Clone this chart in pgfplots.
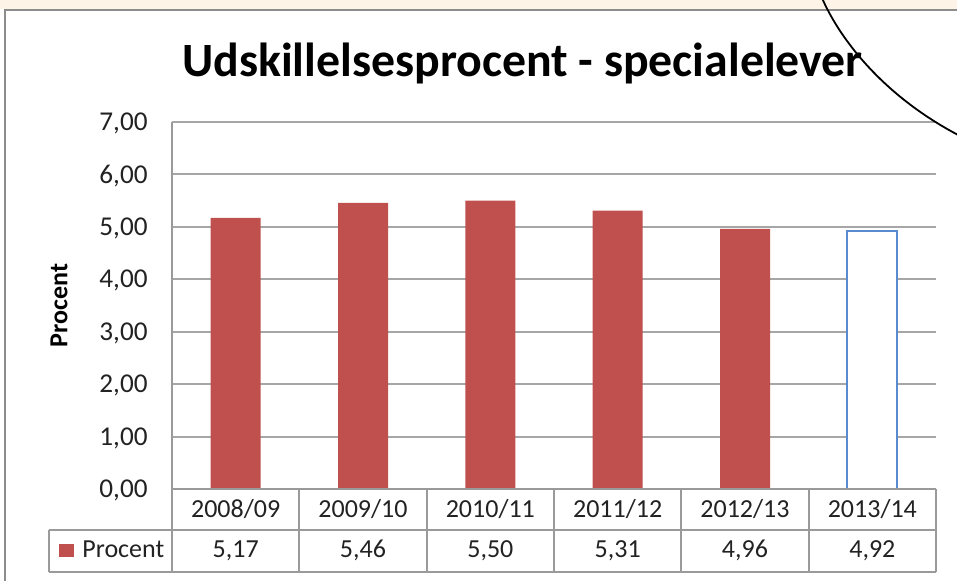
\documentclass[border=0pt]{standalone}
\usepackage{fontspec}
\setmainfont{Carlito}
\usepackage{pgfplots}
\pgfplotsset{compat=1.18}
\definecolor{barred}{HTML}{C0504D}
\definecolor{barblue}{HTML}{5A8AD0}
\definecolor{gridgray}{HTML}{A6A6A6}
\definecolor{tablegray}{HTML}{9A9A9A}
\definecolor{framegray}{HTML}{8C8C8C}
\definecolor{beige}{HTML}{FDF3E7}
\definecolor{txt}{HTML}{222222}
\begin{document}
\begin{tikzpicture}
\useasboundingbox (0,0) rectangle (478.5pt,-290pt);
\clip (0,0) rectangle (478.5pt,-290pt);
\begin{scope}[x=0.5pt,y=-0.5pt]
\fill[white] (0,0) rectangle (957,580);
\fill[beige] (0,0) rectangle (957,9);
\draw[framegray, line width=1pt] (5,600) -- (5,10) -- (1000,10);
\node[font=\bfseries\fontsize{23.9}{28}\selectfont, anchor=base, inner sep=0pt] at (522.5,76) {Udskillelsesprocent - specialelever};
\end{scope}
\begin{axis}[
  at={(86pt,-244.5pt)}, anchor=south west,
  scale only axis, width=382pt, height=183.5pt,
  xmin=-0.5, xmax=5.5, ymin=0, ymax=7,
  ytick={0,1,...,7}, xtick={0,1,2,3,4,5},
  xticklabels={2008/09,2009/10,2010/11,2011/12,2012/13,2013/14},
  ymajorgrids, grid style={gridgray, line width=1pt},
  axis line style={draw=none}, major tick length=0pt,
  clip=false,
  /pgf/number format/assume math mode=true,
  yticklabel style={/pgf/number format/.cd, fixed, fixed zerofill, precision=2, use comma, /tikz/.cd,
     anchor=base east, inner sep=0pt, xshift=-12pt, yshift=-4.3pt, font=\fontsize{13.6}{16}\selectfont, text=txt},
  xticklabel style={anchor=base, inner sep=0pt, yshift=-14pt, font=\fontsize{13}{15}\selectfont, text=txt},
  ybar, bar width=25pt,
]
\addplot[fill=barred, draw=none, bar shift=0pt] coordinates {(0,5.17) (1,5.46) (2,5.50) (3,5.31) (4,4.96)};
\addplot[fill=white, draw=barblue, line width=1pt, bar shift=0pt] coordinates {(5,4.92)};
% data table
\draw[tablegray, line width=1pt] (axis cs:-0.5,7) -- (axis cs:-0.5,0) -- ([yshift=-41.5pt]axis cs:-0.5,0);
\draw[tablegray, line width=1pt] (axis cs:-0.5,0) -- (axis cs:5.5,0);
\draw[tablegray, line width=1pt] ([xshift=-61.5pt,yshift=-20.5pt]axis cs:-0.5,0) -- ([yshift=-20.5pt]axis cs:5.5,0);
\draw[tablegray, line width=1pt] ([xshift=-61.5pt,yshift=-41.5pt]axis cs:-0.5,0) -- ([yshift=-41.5pt]axis cs:5.5,0);
\draw[tablegray, line width=1pt] ([xshift=-61.5pt,yshift=-20.5pt]axis cs:-0.5,0) -- ([xshift=-61.5pt,yshift=-41.5pt]axis cs:-0.5,0);
\draw[tablegray, line width=1pt] (axis cs:0.5,0) -- ([yshift=-41.5pt]axis cs:0.5,0);
\draw[tablegray, line width=1pt] (axis cs:1.5,0) -- ([yshift=-41.5pt]axis cs:1.5,0);
\draw[tablegray, line width=1pt] (axis cs:2.5,0) -- ([yshift=-41.5pt]axis cs:2.5,0);
\draw[tablegray, line width=1pt] (axis cs:3.5,0) -- ([yshift=-41.5pt]axis cs:3.5,0);
\draw[tablegray, line width=1pt] (axis cs:4.5,0) -- ([yshift=-41.5pt]axis cs:4.5,0);
\draw[tablegray, line width=1pt] (axis cs:5.5,0) -- ([yshift=-41.5pt]axis cs:5.5,0);
\fill[barred] ([xshift=-56.5pt,yshift=-27.5pt]axis cs:-0.5,0) rectangle ([xshift=-49pt,yshift=-34pt]axis cs:-0.5,0);
\node[anchor=base west, inner sep=0pt, font=\fontsize{13}{15}\selectfont, text=txt] at ([xshift=-45pt,yshift=-34pt]axis cs:-0.5,0) {Procent};
\node[anchor=base, inner sep=0pt, font=\fontsize{13}{15}\selectfont, text=txt] at ([yshift=-34pt]axis cs:0,0) {5,17};
\node[anchor=base, inner sep=0pt, font=\fontsize{13}{15}\selectfont, text=txt] at ([yshift=-34pt]axis cs:1,0) {5,46};
\node[anchor=base, inner sep=0pt, font=\fontsize{13}{15}\selectfont, text=txt] at ([yshift=-34pt]axis cs:2,0) {5,50};
\node[anchor=base, inner sep=0pt, font=\fontsize{13}{15}\selectfont, text=txt] at ([yshift=-34pt]axis cs:3,0) {5,31};
\node[anchor=base, inner sep=0pt, font=\fontsize{13}{15}\selectfont, text=txt] at ([yshift=-34pt]axis cs:4,0) {4,96};
\node[anchor=base, inner sep=0pt, font=\fontsize{13}{15}\selectfont, text=txt] at ([yshift=-34pt]axis cs:5,0) {4,92};
\node[rotate=90, inner sep=0pt, font=\bfseries\fontsize{13}{15}\selectfont] at ([xshift=-56.5pt]rel axis cs:0,0.5) {Procent};
\end{axis}
\begin{scope}[x=0.5pt,y=-0.5pt]
\draw[black, line width=0.9pt] (822,-2) .. controls (838,35) and (880,95) .. (962,137);
\end{scope}
\end{tikzpicture}
\end{document}
